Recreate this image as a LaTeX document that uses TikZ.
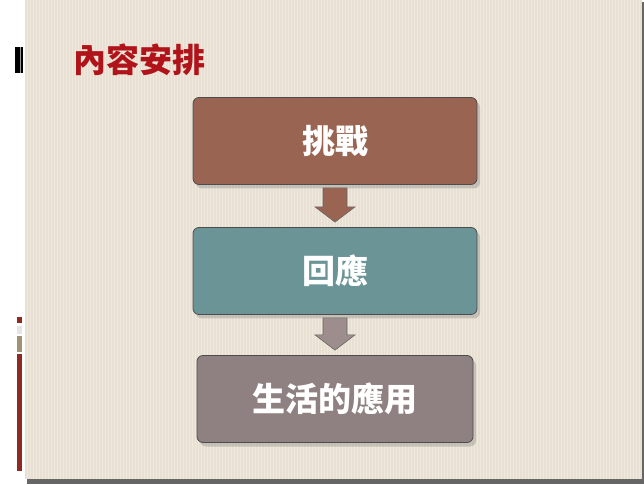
\documentclass[tikz,border=0pt]{standalone}
\usepackage{fontspec}
\newfontfamily\cjk{Noto Sans CJK TC}
\usetikzlibrary{positioning}
\usetikzlibrary{calc}
\usetikzlibrary{shadows}
\definecolor{paper}{HTML}{E8E0D2}
\definecolor{stripe}{HTML}{EFE9DD}
\definecolor{titlered}{HTML}{B0141A}
\definecolor{rust}{HTML}{9A6453}
\definecolor{teal}{HTML}{6B9497}
\definecolor{mauve}{HTML}{8F8181}
\definecolor{mauvearrow}{HTML}{9D8D8D}
\definecolor{barred}{HTML}{8E2A22}
\definecolor{bartan}{HTML}{A09274}
\tikzset{>=latex}
\tikzset{stepbox/.style={rectangle, rounded corners=6pt, draw=black!70, line width=0.8pt,
    fill=#1, minimum width=284pt, minimum height=87pt, text=white,
    font=\cjk\bfseries\fontsize{33}{33}\selectfont,
    drop shadow={shadow xshift=3pt, shadow yshift=-4pt, opacity=0.35}}}
\tikzset{title/.style={text=titlered, font=\cjk\bfseries\fontsize{33}{33}\selectfont}}
\tikzset{downarrow/.style={draw=black!60, line width=0.6pt, fill=#1}}

\begin{document}
\begin{tikzpicture}[x=1pt, y=1pt]
    \useasboundingbox (0,0) rectangle (644,484);

    % ------- Start Slide ------- %
    \fill [white] (0,0) rectangle (644,484);
    \fill [black!60] (27,0) rectangle (644,482);
    \fill [paper] (25,5) rectangle (642,484);
    \foreach \x in {27,30,...,640}
        \draw [stripe, line width=1pt] (\x,5) -- (\x,484);

    % The bars on the left edge.
    \fill [black] (15,411) rectangle (23,437);
    \fill [white!60!black] (20,411) rectangle (21,437);
    \fill [barred] (17,161) rectangle (22,167);
    \fill [black!10] (17,150) rectangle (22,158);
    \fill [bartan] (17,132) rectangle (22,148);
    \fill [barred] (17,13) rectangle (22,130);
    % ------- End Slide ------- %

    % ------- Start Steps ------- %
    \node [title, anchor=west] (t0) at (70,424) {內容安排};

    \node [stepbox=rust] (s0) at (335,343) {挑戰};
    \node [stepbox=teal] (s1) at ($(s0) + (0,-130pt)$) {回應};
    \node [stepbox=mauve, minimum width=276pt] (s2) at ($(s1) + (0,-128pt)$) {生活的應用};

    % The block arrows between the steps.
    \draw [downarrow=rust] ($(s0.south) + (-12pt,-3pt)$) -- ($(s0.south) + (12pt,-3pt)$)
        -- ($(s0.south) + (12pt,-22pt)$) -- ($(s0.south) + (20pt,-22pt)$)
        -- ($(s1.north) + (0,5pt)$) -- ($(s0.south) + (-20pt,-22pt)$)
        -- ($(s0.south) + (-12pt,-22pt)$) -- cycle;
    \draw [downarrow=mauvearrow] ($(s1.south) + (-12pt,-3pt)$) -- ($(s1.south) + (12pt,-3pt)$)
        -- ($(s1.south) + (12pt,-20pt)$) -- ($(s1.south) + (20pt,-20pt)$)
        -- ($(s2.north) + (0,5pt)$) -- ($(s1.south) + (-20pt,-20pt)$)
        -- ($(s1.south) + (-12pt,-20pt)$) -- cycle;
    % ------- End Steps ------- %
\end{tikzpicture}
\end{document}
